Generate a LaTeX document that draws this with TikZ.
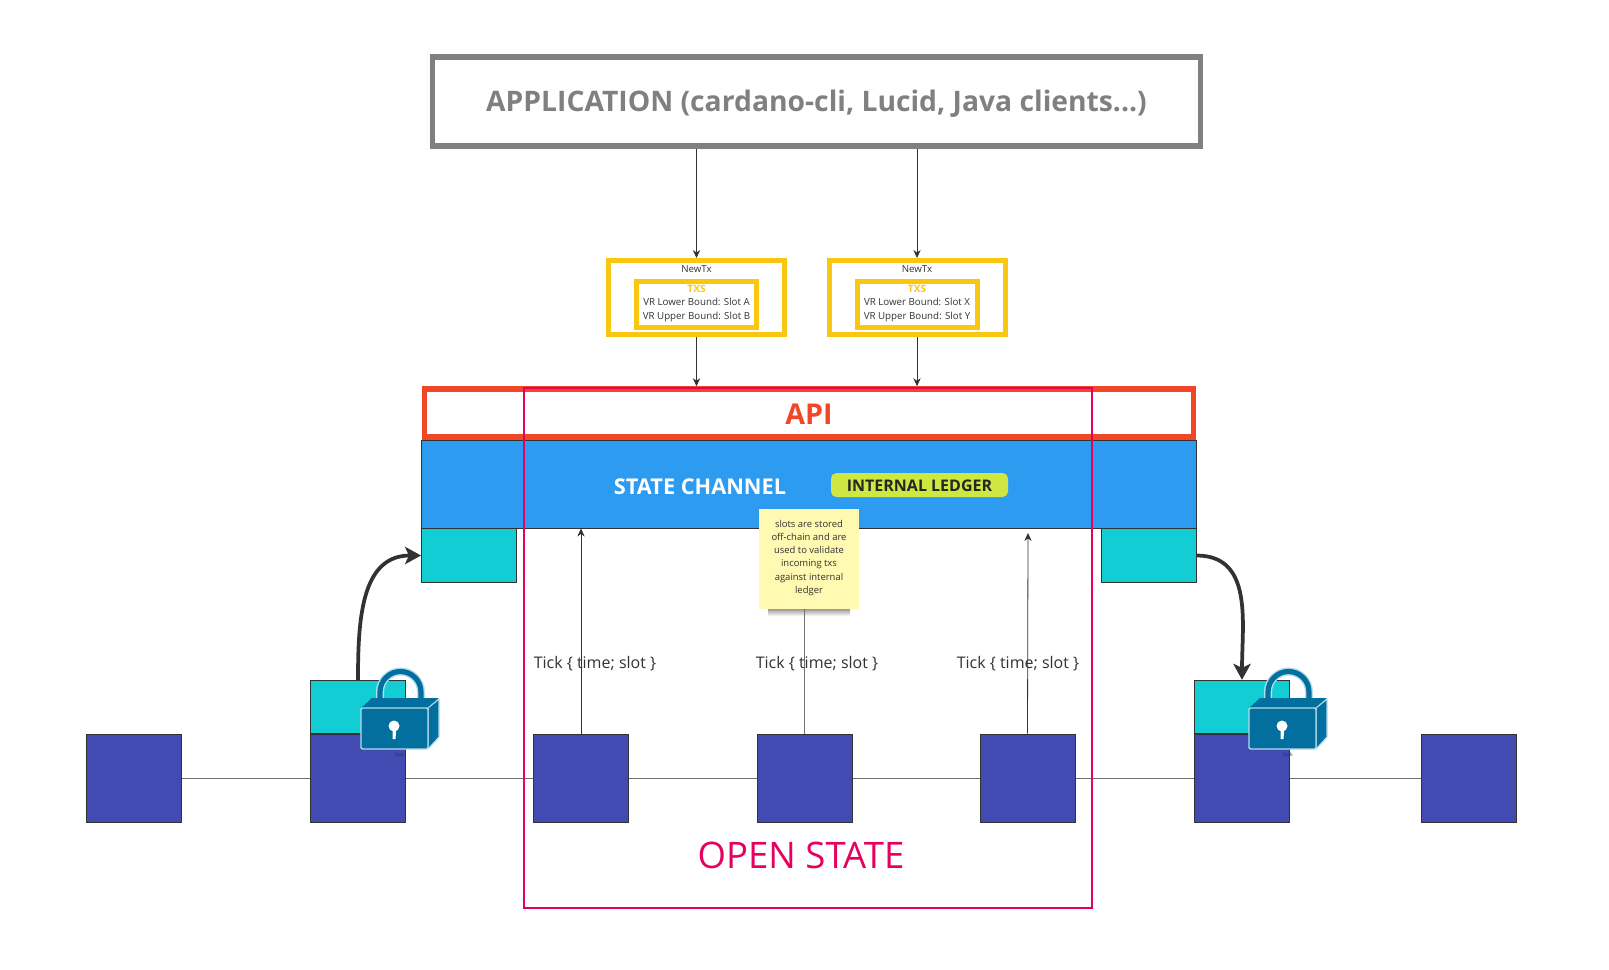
\documentclass[tikz,border=0pt]{standalone}
\usepackage{fontspec}
\setmainfont{Open Sans}
\definecolor{appgray}{RGB}{128, 128, 128}
\definecolor{txyellow}{RGB}{250, 199, 16}
\definecolor{apired}{RGB}{242, 71, 38}
\definecolor{openpink}{RGB}{230, 0, 95}
\definecolor{channelblue}{RGB}{45, 155, 240}
\definecolor{tealbox}{RGB}{18, 205, 212}
\definecolor{blockblue}{RGB}{65, 75, 178}
\definecolor{ledgerlime}{RGB}{206, 231, 65}
\definecolor{notepaper}{RGB}{255, 249, 177}
\definecolor{lockbody}{RGB}{2, 111, 159}
\definecolor{lockedge}{RGB}{181, 220, 234}
\definecolor{inkdark}{RGB}{50, 50, 50}
\usetikzlibrary{positioning,shapes,arrows.meta,calc}

\tikzset{
    appbox/.style={draw=appgray,line width=4.2pt,minimum width=576pt,minimum height=67pt},
    txouter/.style={draw=txyellow,line width=3.75pt,minimum width=132pt,minimum height=55.5pt},
    txinner/.style={draw=txyellow,line width=3.75pt,minimum width=90pt,minimum height=34.5pt},
    tealblock/.style={draw=inkdark,line width=0.75pt,fill=tealbox,minimum width=71.25pt,minimum height=40pt},
    chainblock/.style={draw=inkdark,line width=0.75pt,fill=blockblue,minimum width=71.25pt,minimum height=66pt},
    txtext/.style={font=\fontsize{7.3pt}{10.5pt}\selectfont,text=inkdark,align=center,inner sep=0pt},
    ticklabel/.style={font=\fontsize{12pt}{14pt}\selectfont,text=inkdark,inner sep=0pt},
    locklabel/.style={font=\fontsize{3.8pt}{4pt}\selectfont,text=inkdark,inner sep=0pt},
    thinarrow/.style={-{Stealth[length=6pt,width=5.5pt]},draw=inkdark,line width=0.6pt},
    chainline/.style={draw=inkdark!70,line width=0.75pt},
    lockarrow/.style={-{Stealth[length=12pt,width=13pt,inset=3pt]},draw=inkdark,line width=2.8pt},
    padlock/.pic={
        \draw[lockedge,line width=6pt,line cap=round] (19,-6) -- (19,-16) arc[start angle=180,end angle=360,radius=20.5] -- (60,-6);
        \draw[lockbody,line width=3.9pt,line cap=round] (19,-6) -- (19,-16) arc[start angle=180,end angle=360,radius=20.5] -- (60,-6);
        \fill[lockbody] (0,0) -- (11,-10) -- (78,-10) -- (67,0) -- cycle;
        \draw[fill=lockbody,draw=lockedge,line width=0.8pt,line join=round] (67,0) -- (78,-9) -- (78,29) -- (67,41) -- cycle;
        \draw[fill=lockbody,draw=lockedge,line width=1pt,rounded corners=1pt] (0,0) rectangle (67,41);
        \fill[white] (33,18) circle (5.5);
        \fill[white] (31.5,18) -- (35.5,18) -- (34.5,31) -- (31.5,31) -- cycle;
    }
}

\begin{document}
\begin{tikzpicture}[x=0.75pt,y=-0.75pt]
    \useasboundingbox (0,0) rectangle (1609,970);
    % top of the stack
    \node[appbox] (app) at (816.5,101.5) {};
    \node[font=\fontsize{21.2pt}{24pt}\selectfont\bfseries,text=appgray,inner sep=0pt] (apptext) at (816.5,104) {APPLICATION (cardano-cli, Lucid, Java clients...)};
    % the two transactions
    \node[txouter] (txa) at (696.5,297.5) {};
    \node[txinner] (txainner) at (696.5,304.5) {};
    \node[txtext] (txaname) at (696.5,269) {NewTx};
    \node[txtext,text=txyellow,font=\fontsize{7.6pt}{10.5pt}\selectfont\bfseries] (txatitle) at (696.5,289) {TXS};
    \node[txtext] (txabounds) at (696.5,309.5) {VR Lower Bound: Slot A\\VR Upper Bound: Slot B};
    \node[txouter] (txb) at (917,297.5) {};
    \node[txinner] (txbinner) at (917,304.5) {};
    \node[txtext] (txbname) at (917,269) {NewTx};
    \node[txtext,text=txyellow,font=\fontsize{7.6pt}{10.5pt}\selectfont\bfseries] (txbtitle) at (917,289) {TXS};
    \node[txtext] (txbbounds) at (917,309.5) {VR Lower Bound: Slot X\\VR Upper Bound: Slot Y};
    % state channel
    \node[draw=inkdark,line width=0.75pt,fill=channelblue,minimum width=581pt,minimum height=66pt] (channel) at (809,484) {};
    \node[draw=apired,line width=4.2pt,minimum width=577pt,minimum height=36pt] (api) at (809,413) {};
    \node[font=\fontsize{21.5pt}{24pt}\selectfont\bfseries,text=apired,inner sep=0pt] (apitext) at (809,414) {API};
    \node[font=\fontsize{16.3pt}{18pt}\selectfont\bfseries,text=white,inner sep=0pt] (channeltext) at (700,487) {STATE CHANNEL};
    \node[fill=ledgerlime,rounded corners=4pt,minimum width=132.75pt,minimum height=18pt,inner sep=0pt] (ledger) at (919.5,485) {};
    \node[font=\fontsize{12pt}{14pt}\selectfont\bfseries,text=black!85,inner sep=0pt] (ledgertext) at (919.5,485.5) {INTERNAL LEDGER};
    \node[tealblock] (tealleft) at (469,555.5) {};
    \node[tealblock] (tealright) at (1148.5,555.5) {};
    % the chain
    \node[chainblock] (blocka) at (134,778) {};
    \node[tealblock] (lockleft) at (358,707) {};
    \node[chainblock] (blockb) at (358,778) {};
    \node[chainblock] (blockc) at (581,778) {};
    \node[chainblock] (blockd) at (804.5,778) {};
    \node[chainblock] (blocke) at (1027.5,778) {};
    \node[tealblock] (lockright) at (1242,707) {};
    \node[chainblock] (blockf) at (1242,778) {};
    \node[chainblock] (blockg) at (1468.5,778) {};
    \foreach \from/\to in {blocka/blockb,blockb/blockc,blockc/blockd,blockd/blocke,blocke/blockf,blockf/blockg}
        \draw[chainline] (\from) -- (\to);
    % arrows
    \draw[thinarrow] (txa.north |- app.south) -- (txa.north);
    \draw[thinarrow] (txb.north |- app.south) -- (txb.north);
    \draw[thinarrow] (txa.south) -- (txa.south |- api.north);
    \draw[thinarrow] (txb.south) -- (txb.south |- api.north);
    \draw[lockarrow] (lockleft.north) to[out=90,in=180,looseness=1.1] (tealleft.west);
    \draw[lockarrow] (tealright.east) to[out=0,in=90,looseness=1.1] (lockright.north);
    \coordinate (tickend) at (1028,533);
    \draw[thinarrow] (blockc.north) -- (blockc.north |- channel.south);
    \draw[thinarrow] (blocke.north) -- (tickend);
    % open state
    \node[draw=openpink,line width=1.5pt,minimum width=426pt,minimum height=390pt] (openstate) at (808,648) {};
    \node[font=\fontsize{27.4pt}{30pt}\selectfont,text=openpink,inner sep=0pt] (opentext) at (801,855) {OPEN STATE};
    % sticky note
    \shade[top color=black!40,bottom color=white] (768,609) rectangle (850,616);
    \node[fill=notepaper,minimum width=75pt,minimum height=75pt,inner sep=0pt] (note) at (809,559) {};
    \node[txtext,font=\fontsize{7.1pt}{9.8pt}\selectfont] (notetext) at (809,558) {slots are stored\\off-chain and are\\used to validate\\incoming txs\\against internal\\ledger};
    \draw[chainline] (blockd.north) -- (blockd.north |- note.south);
    \node[ticklabel] (ticka) at (595,664) {Tick \{ time; slot \}};
    \node[ticklabel] (tickb) at (817,664) {Tick \{ time; slot \}};
    \node[ticklabel] (tickc) at (1018,664) {Tick \{ time; slot \}};
    % locks
    \pic at (361,708) {padlock};
    \pic at (1249,708) {padlock};
    \node[locklabel] (locka) at (400,755) {lock};
    \node[locklabel] (lockb) at (1288,755) {lock};
\end{tikzpicture}
\end{document}
